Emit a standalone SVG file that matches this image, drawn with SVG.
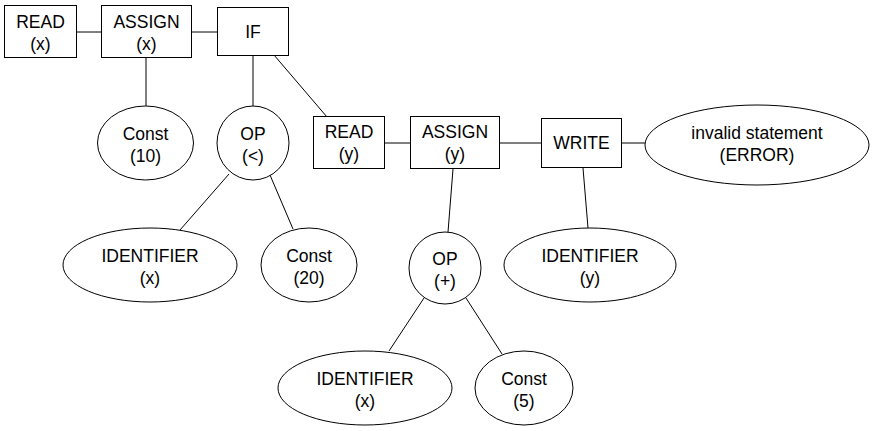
<svg xmlns="http://www.w3.org/2000/svg" width="874" height="431" viewBox="0 0 874 431">
<style>
.n{fill:#fff;stroke:#000;stroke-width:1}
.e line{stroke:#000;stroke-width:1}
text{font-family:"Liberation Sans",Arial,sans-serif;font-size:17.5px;fill:#000;text-anchor:middle}
</style>
<rect width="874" height="431" fill="#fff"/>
<g class="e" id="connectors">
<line x1="77" y1="32" x2="101" y2="32"/>
<line x1="192" y1="32" x2="217" y2="32"/>
<line x1="146" y1="57" x2="146" y2="106"/>
<line x1="253" y1="55" x2="253" y2="106"/>
<line x1="274" y1="55" x2="327" y2="117"/>
<line x1="385" y1="143" x2="410" y2="143"/>
<line x1="500" y1="143" x2="541" y2="143"/>
<line x1="622" y1="143" x2="645" y2="143"/>
<line x1="229" y1="174" x2="180" y2="230"/>
<line x1="270" y1="175" x2="293" y2="229"/>
<line x1="453" y1="169" x2="448" y2="232"/>
<line x1="583" y1="168" x2="588" y2="228"/>
<line x1="424" y1="298" x2="389" y2="351"/>
<line x1="466" y1="298" x2="502" y2="354"/>
</g>
<g id="read_x"><rect class="n" x="4.5" y="5.5" width="72" height="52"/><text x="40.5" y="28">READ</text><text x="40.5" y="50">(x)</text></g>
<g id="assign_x"><rect class="n" x="101.5" y="5.5" width="90" height="52"/><text x="146.5" y="28">ASSIGN</text><text x="146.5" y="50">(x)</text></g>
<g id="if"><rect class="n" x="217.5" y="7.5" width="71" height="48"/><text x="253" y="38">IF</text></g>
<g id="const10"><ellipse class="n" cx="145.5" cy="143" rx="48" ry="37"/><text x="145.5" y="140">Const</text><text x="145.5" y="162">(10)</text></g>
<g id="op_lt"><ellipse class="n" cx="253" cy="143" rx="36" ry="37"/><text x="253" y="140">OP</text><text x="253" y="162">(&lt;)</text></g>
<g id="read_y"><rect class="n" x="313.5" y="116.5" width="71" height="52"/><text x="349" y="138">READ</text><text x="349" y="160">(y)</text></g>
<g id="assign_y"><rect class="n" x="410.5" y="116.5" width="89" height="52"/><text x="455" y="138">ASSIGN</text><text x="455" y="160">(y)</text></g>
<g id="write"><rect class="n" x="541.5" y="118.5" width="80" height="49"/><text x="581.5" y="149">WRITE</text></g>
<g id="error"><ellipse class="n" cx="757" cy="145" rx="112" ry="40"/><text x="757" y="139">invalid statement</text><text x="757" y="161">(ERROR)</text></g>
<g id="ident_x1"><ellipse class="n" cx="150" cy="265" rx="87" ry="37"/><text x="150" y="262">IDENTIFIER</text><text x="150" y="284">(x)</text></g>
<g id="const20"><ellipse class="n" cx="309" cy="265" rx="48" ry="37"/><text x="309" y="262">Const</text><text x="309" y="284">(20)</text></g>
<g id="op_plus"><ellipse class="n" cx="445" cy="268" rx="36" ry="36"/><text x="445" y="265">OP</text><text x="445" y="287">(+)</text></g>
<g id="ident_y"><ellipse class="n" cx="590" cy="265" rx="86" ry="37"/><text x="590" y="262">IDENTIFIER</text><text x="590" y="284">(y)</text></g>
<g id="ident_x2"><ellipse class="n" cx="365" cy="388" rx="87" ry="37"/><text x="365" y="385">IDENTIFIER</text><text x="365" y="407">(x)</text></g>
<g id="const5"><ellipse class="n" cx="524" cy="388" rx="49" ry="37"/><text x="524" y="385">Const</text><text x="524" y="407">(5)</text></g>
</svg>
